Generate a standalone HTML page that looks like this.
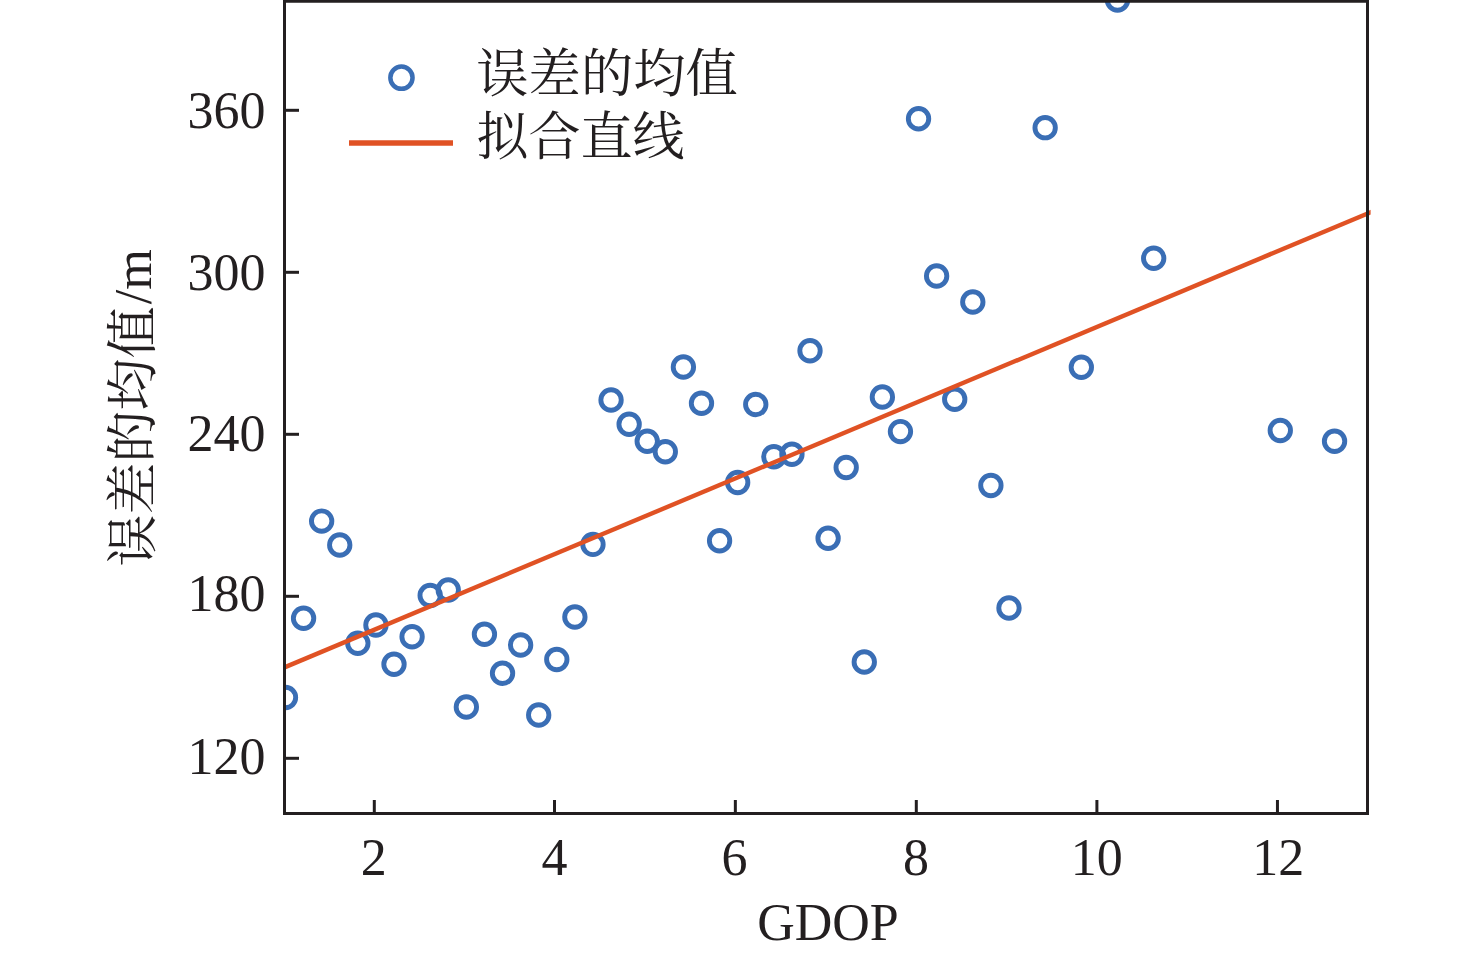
<!DOCTYPE html>
<html lang="zh-CN">
<head>
<meta charset="utf-8">
<title>GDOP 误差的均值 拟合直线</title>
<style>
html,body{margin:0;padding:0;background:#fff;}
body{width:1476px;height:957px;overflow:hidden;}
svg{display:block;}
text{font-family:"Liberation Serif", "Noto Serif CJK SC", serif;font-size:52px;fill:#231f20;}
.cj{font-weight:400;}
</style>
</head>
<body>
<svg width="1476" height="957" viewBox="0 0 1476 957">
<rect x="0" y="0" width="1476" height="957" fill="#ffffff"/>
<defs><clipPath id="fl"><rect x="280" y="0" width="1090.6" height="957"/></clipPath><clipPath id="ax"><rect x="284.5" y="0" width="1084.5" height="813.5"/></clipPath></defs>
<g clip-path="url(#ax)" fill="none" stroke="#3a6eb5" stroke-width="4.9">
<circle cx="285.48" cy="697.50" r="10.2"/>
<circle cx="303.57" cy="618.25" r="10.2"/>
<circle cx="321.65" cy="521.10" r="10.2"/>
<circle cx="339.74" cy="545.00" r="10.2"/>
<circle cx="357.83" cy="643.25" r="10.2"/>
<circle cx="375.92" cy="625.00" r="10.2"/>
<circle cx="394.00" cy="664.25" r="10.2"/>
<circle cx="412.09" cy="636.75" r="10.2"/>
<circle cx="430.18" cy="595.50" r="10.2"/>
<circle cx="448.27" cy="590.00" r="10.2"/>
<circle cx="466.35" cy="707.00" r="10.2"/>
<circle cx="484.44" cy="634.25" r="10.2"/>
<circle cx="502.53" cy="673.25" r="10.2"/>
<circle cx="520.62" cy="645.00" r="10.2"/>
<circle cx="538.70" cy="715.00" r="10.2"/>
<circle cx="556.79" cy="659.50" r="10.2"/>
<circle cx="574.88" cy="617.00" r="10.2"/>
<circle cx="592.97" cy="544.40" r="10.2"/>
<circle cx="611.05" cy="400.00" r="10.2"/>
<circle cx="629.14" cy="424.25" r="10.2"/>
<circle cx="647.23" cy="441.25" r="10.2"/>
<circle cx="665.32" cy="451.75" r="10.2"/>
<circle cx="683.40" cy="367.00" r="10.2"/>
<circle cx="701.49" cy="403.25" r="10.2"/>
<circle cx="719.58" cy="540.75" r="10.2"/>
<circle cx="737.66" cy="482.50" r="10.2"/>
<circle cx="755.75" cy="404.50" r="10.2"/>
<circle cx="773.84" cy="456.75" r="10.2"/>
<circle cx="791.93" cy="454.25" r="10.2"/>
<circle cx="810.01" cy="350.75" r="10.2"/>
<circle cx="828.10" cy="538.25" r="10.2"/>
<circle cx="846.19" cy="467.50" r="10.2"/>
<circle cx="864.28" cy="662.00" r="10.2"/>
<circle cx="882.36" cy="397.00" r="10.2"/>
<circle cx="900.45" cy="431.60" r="10.2"/>
<circle cx="918.54" cy="118.75" r="10.2"/>
<circle cx="936.63" cy="276.00" r="10.2"/>
<circle cx="954.71" cy="399.25" r="10.2"/>
<circle cx="972.80" cy="302.00" r="10.2"/>
<circle cx="990.89" cy="485.50" r="10.2"/>
<circle cx="1008.98" cy="608.00" r="10.2"/>
<circle cx="1045.15" cy="127.70" r="10.2"/>
<circle cx="1081.33" cy="367.25" r="10.2"/>
<circle cx="1117.50" cy="0.00" r="10.2"/>
<circle cx="1153.68" cy="258.25" r="10.2"/>
<circle cx="1280.29" cy="430.50" r="10.2"/>
<circle cx="1334.55" cy="441.25" r="10.2"/>
</g>
<line x1="284.5" y1="667.4" x2="1381.53" y2="207.6" stroke="#e05224" stroke-width="4.4" clip-path="url(#fl)"/>
<g fill="none" stroke="#231f20" stroke-width="3">
<rect x="284.5" y="1.25" width="1083" height="812.25"/>
<line x1="374.30" y1="800" x2="374.30" y2="813"/>
<line x1="554.50" y1="800" x2="554.50" y2="813"/>
<line x1="735.35" y1="800" x2="735.35" y2="813"/>
<line x1="916.30" y1="800" x2="916.30" y2="813"/>
<line x1="1096.90" y1="800" x2="1096.90" y2="813"/>
<line x1="1277.45" y1="800" x2="1277.45" y2="813"/>
<line x1="285" y1="110.30" x2="299" y2="110.30"/>
<line x1="285" y1="272.30" x2="299" y2="272.30"/>
<line x1="285" y1="434.30" x2="299" y2="434.30"/>
<line x1="285" y1="596.30" x2="299" y2="596.30"/>
<line x1="285" y1="758.30" x2="299" y2="758.30"/>
</g>
<circle cx="401.45" cy="77.7" r="11.1" fill="none" stroke="#3a6eb5" stroke-width="4.5"/>
<line x1="349" y1="143" x2="453" y2="143" stroke="#e05224" stroke-width="5.6"/>
<text transform="translate(476.3,92.25) scale(1.006,1)" class="cj">误差的均值</text>
<text transform="translate(476.6,154.7)" class="cj">拟合直线</text>
<text transform="translate(373.70,875) scale(1,1.03)" text-anchor="middle">2</text>
<text transform="translate(554.50,875) scale(1,1.03)" text-anchor="middle">4</text>
<text transform="translate(734.45,875) scale(1,1.03)" text-anchor="middle">6</text>
<text transform="translate(916.10,875) scale(1,1.03)" text-anchor="middle">8</text>
<text transform="translate(1096.85,875) scale(1,1.03)" text-anchor="middle">10</text>
<text transform="translate(1278.20,875) scale(1,1.03)" text-anchor="middle">12</text>
<text transform="translate(265.4,127.50) scale(1,1.03)" text-anchor="end">360</text>
<text transform="translate(265.4,289.50) scale(1,1.03)" text-anchor="end">300</text>
<text transform="translate(265.4,450.50) scale(1,1.03)" text-anchor="end">240</text>
<text transform="translate(265.4,611.45) scale(1,1.03)" text-anchor="end">180</text>
<text transform="translate(265.4,773.50) scale(1,1.03)" text-anchor="end">120</text>
<text transform="translate(827.9,940) scale(1,1.03)" text-anchor="middle">GDOP</text>
<text transform="translate(151.3,566.45) rotate(-90)" class="cj">误差的均值</text>
<text transform="translate(151.2,304.2) rotate(-90) scale(1.006,1.03)">/m</text>
</svg>
</body>
</html>
